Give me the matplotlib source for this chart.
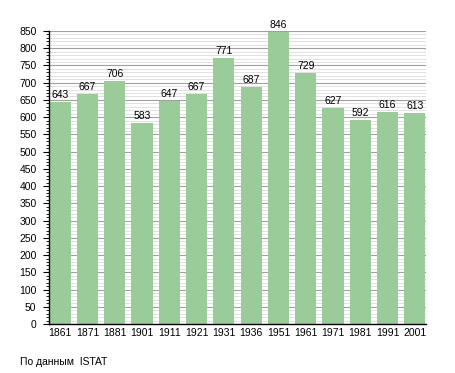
import matplotlib
matplotlib.use("Agg")
import matplotlib.pyplot as plt
from matplotlib.ticker import MultipleLocator

years = ["1861", "1871", "1881", "1901", "1911", "1921", "1931", "1936", "1951", "1961", "1971", "1981", "1991", "2001"]
population = [643, 667, 706, 583, 647, 667, 771, 687, 846, 729, 627, 592, 616, 613]
y_ticks = list(range(0, 851, 50))

plt.rcParams['font.family'] = ['Liberation Sans', 'DejaVu Sans']
fig = plt.figure(figsize=(4.55, 3.73), dpi=100)
ax = fig.add_axes([49/455, 1-324/373, 377/455, 293/373])

x = list(range(len(years)))
bw = 0.78
fs = 7.5
ax.set_xlim(-bw/2 - 0.02, len(years) - 1 + bw/2 + 0.02)
ax.set_ylim(0, 850)
ax.yaxis.set_major_locator(MultipleLocator(50))
ax.yaxis.set_minor_locator(MultipleLocator(10))
ax.grid(axis='y', which='major', color='#a0a0a0', linewidth=0.8, zorder=0)
ax.grid(axis='y', which='minor', color='#dcdcdc', linewidth=0.6, zorder=0)
ax.set_axisbelow(True)

bars = ax.bar(x, population, width=bw, color='#99cc99', zorder=2)
for xi, v in zip(x, population):
    ax.text(xi, v + 6, str(v), ha='center', va='bottom', fontsize=fs, color='black')

ax.set_xticks(x)
ax.set_xticklabels(years, fontsize=fs)
ax.set_yticks(y_ticks)
ax.tick_params(axis='y', which='major', length=4, direction='out', labelsize=fs, width=0.8, pad=5)
ax.tick_params(axis='y', which='minor', length=2, direction='out', width=0.6)
ax.tick_params(axis='x', length=0, pad=3)

for s in ['top', 'right']:
    ax.spines[s].set_visible(False)
ax.spines['left'].set_linewidth(1.0)
ax.spines['bottom'].set_linewidth(1.0)

fig.text(20/455, 1-362/373, "По данным  ISTAT", fontsize=fs, ha='left', va='center')

fig.savefig("out.png", dpi=100)
